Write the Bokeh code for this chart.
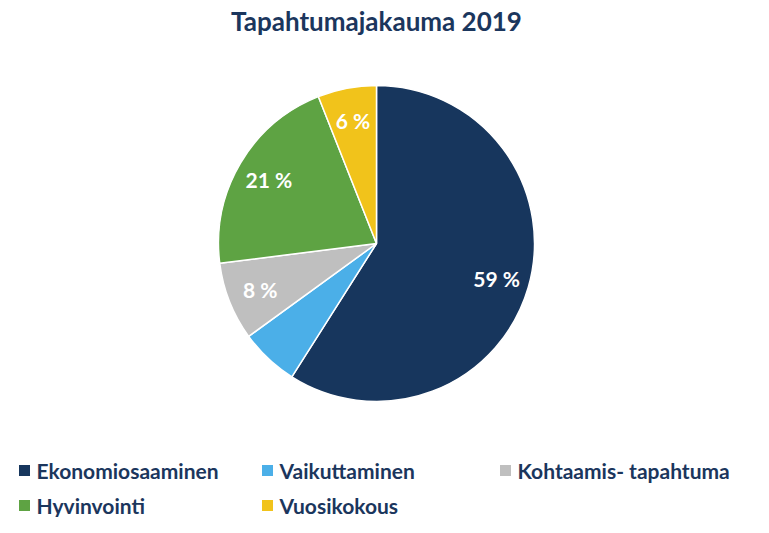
import numpy as np
from bokeh.plotting import figure
from bokeh.models import Range1d, ColumnDataSource
from bokeh.core.properties import value
from bokeh.embed import file_html
from bokeh.resources import INLINE

title = "Tapahtumajakauma 2019"
categories = ["Ekonomiosaaminen", "Vaikuttaminen", "Kohtaamis- tapahtuma", "Hyvinvointi", "Vuosikokous"]
shares = [59, 6, 8, 21, 6]
shown_labels = ["59 %", "", "8 %", "21 %", "6 %"]
colors = ["#17365d", "#4bafe8", "#bfbfbf", "#5ea343", "#f1c31b"]

FW, FH = 753, 517
FONT = "Lato"
NAVY = "#1b365d"

p = figure(width=FW, height=FH, output_backend="svg", toolbar_location=None,
           x_range=Range1d(0, FW), y_range=Range1d(0, FH), min_border=0)
p.axis.visible = False
p.grid.visible = False
p.outline_line_color = None
p.background_fill_color = "white"

def Y(y):
    return FH - y

cx, cy, R = 376, Y(243), 158
frac = np.array(shares, dtype=float) / sum(shares)
cum = np.concatenate([[0], np.cumsum(frac)])
start = np.pi / 2 - 2 * np.pi * cum[:-1]
end = np.pi / 2 - 2 * np.pi * cum[1:]
mid = (start + end) / 2

src = ColumnDataSource(dict(start=start, end=end, color=colors))
p.wedge(x=cx, y=cy, radius=R, start_angle="start", end_angle="end", direction="clock",
        fill_color="color", line_color="white", line_width=1.5, source=src)

lr = 125
lsrc = ColumnDataSource(dict(x=cx + lr * np.cos(mid), y=cy + lr * np.sin(mid), t=shown_labels))
p.text(x="x", y="y", text="t", source=lsrc, text_color="white", text_font=value(FONT),
       text_font_style="bold", text_font_size="21px", text_align="center", text_baseline="middle")

p.text(x=[376], y=[Y(20)], text=[title], text_color=NAVY, text_font=value(FONT),
       text_font_style="bold", text_font_size="26px", text_align="center", text_baseline="middle")

# legend
lx = [24, 267, 505, 24, 267]
ly = [Y(470), Y(470), Y(470), Y(505), Y(505)]
p.scatter(x=lx, y=ly, marker="square", size=11, fill_color=colors, line_color=None)
p.text(x=[v + 12 for v in lx], y=ly, text=categories, text_color=NAVY, text_font=value(FONT),
       text_font_style="bold", text_font_size="21px", text_align="left", text_baseline="middle")

open("out.html", "w").write(file_html(p, INLINE))
